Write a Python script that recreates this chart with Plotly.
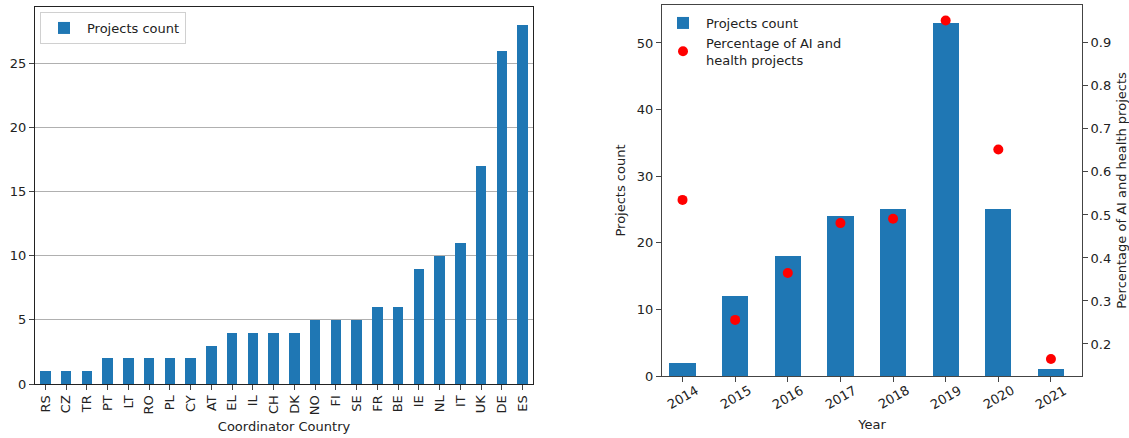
import plotly.graph_objects as go

# Projects per coordinator country
countries = ["RS", "CZ", "TR", "PT", "LT", "RO", "PL", "CY", "AT", "EL", "IL", "CH",
             "DK", "NO", "FI", "SE", "FR", "BE", "IE", "NL", "IT", "UK", "DE", "ES"]
country_counts = [1, 1, 1, 2, 2, 2, 2, 2, 3, 4, 4, 4, 4, 5, 5, 5, 6, 6, 9, 10, 11, 17, 26, 28]

# Projects per year and share of AI-and-health projects
years = ["2014", "2015", "2016", "2017", "2018", "2019", "2020", "2021"]
year_counts = [2, 12, 18, 24, 25, 53, 25, 1]
ai_health_share = [0.535, 0.256, 0.365, 0.481, 0.491, 0.952, 0.652, 0.165]

y_ticks_left = [0, 5, 10, 15, 20, 25]
y_ticks_counts = [0, 10, 20, 30, 40, 50]
y_ticks_share = [0.2, 0.3, 0.4, 0.5, 0.6, 0.7, 0.8, 0.9]

BLUE = "#1f77b4"
FONT = "DejaVu Sans"
TXT = "#222"
W, H = 1129, 438

fig = go.Figure()

fig.add_trace(go.Bar(
    x=countries, y=country_counts, width=0.5, name="Projects count",
    marker=dict(color=BLUE, line=dict(width=0)),
    xaxis="x", yaxis="y", legend="legend", showlegend=True,
))

fig.add_trace(go.Bar(
    x=years, y=year_counts, width=0.5, name="Projects count",
    marker=dict(color=BLUE, line=dict(width=0)),
    xaxis="x2", yaxis="y2", legend="legend2", showlegend=True,
))

fig.add_trace(go.Scatter(
    x=years, y=ai_health_share, mode="markers",
    name="Percentage of AI and<br>health projects",
    marker=dict(color="red", size=10),
    xaxis="x2", yaxis="y3", legend="legend2", showlegend=True,
))

axis_common = dict(
    showline=True, mirror=True, ticks="outside", ticklen=5,
    tickfont=dict(family=FONT, size=13, color=TXT),
    zeroline=False, automargin=False,
)


def px_x(a, b):
    return [a / W, b / W]


def px_y(top, bottom):
    return [(H - bottom) / H, (H - top) / H]


# year labels drawn rotated and centred under their ticks (category index positions)
year_labels = [
    dict(x=i, y=(H - 397) / H, xref="x2", yref="paper", text=yr,
         textangle=-30, showarrow=False, xanchor="center", yanchor="middle",
         font=dict(family=FONT, size=13, color=TXT))
    for i, yr in enumerate(years)
]

fig.update_layout(
    width=W, height=H,
    margin=dict(l=0, r=0, t=0, b=0),
    paper_bgcolor="white", plot_bgcolor="white",
    font=dict(family=FONT, size=13, color=TXT),
    bargap=0,
    showlegend=True,
    xaxis=dict(
        domain=px_x(35, 533), anchor="y", type="category",
        range=[-0.5, len(countries) - 0.5], tickangle=-90,
        linecolor="#222", linewidth=1, showgrid=False,
        title=dict(text="Coordinator Country", font=dict(family=FONT, size=13), standoff=7),
        **axis_common,
    ),
    yaxis=dict(
        domain=px_y(7, 384), anchor="x",
        range=[0, 29.4], tickvals=y_ticks_left,
        linecolor="#222", linewidth=1,
        showgrid=True, gridcolor="#b0b0b0", gridwidth=1,
        **axis_common,
    ),
    xaxis2=dict(
        domain=px_x(662, 1082), anchor="y2", type="category",
        range=[-0.39, 7.59], showticklabels=False,
        linecolor="#444", linewidth=1, showgrid=False,
        title=dict(text="Year", font=dict(family=FONT, size=13), standoff=38),
        **axis_common,
    ),
    yaxis2=dict(
        domain=px_y(5, 376), anchor="x2",
        range=[0, 55.7], tickvals=y_ticks_counts,
        linecolor="#444", linewidth=1, showgrid=False,
        title=dict(text="Projects count", font=dict(family=FONT, size=13), standoff=8),
        **axis_common,
    ),
    yaxis3=dict(
        overlaying="y2", side="right", anchor="x2",
        range=[0.1256, 0.988], tickvals=y_ticks_share,
        linecolor="#444", linewidth=1, showgrid=False,
        showline=True, ticks="outside", ticklen=5, zeroline=False, automargin=False,
        tickfont=dict(family=FONT, size=13, color=TXT),
        title=dict(text="Percentage of AI and health projects",
                   font=dict(family=FONT, size=13), standoff=6),
    ),
    legend=dict(
        x=40 / W, y=(H - 12) / H, xanchor="left", yanchor="top",
        bgcolor="white", bordercolor="#d0d0d0", borderwidth=1,
        font=dict(family=FONT, size=13, color=TXT),
        itemwidth=36,
    ),
    legend2=dict(
        x=660 / W, y=(H - 8) / H, xanchor="left", yanchor="top",
        bgcolor="rgba(0,0,0,0)", borderwidth=0,
        font=dict(family=FONT, size=13, color=TXT),
        tracegroupgap=2, itemwidth=36,
    ),
    annotations=year_labels,
)

fig.write_html("out.html")
